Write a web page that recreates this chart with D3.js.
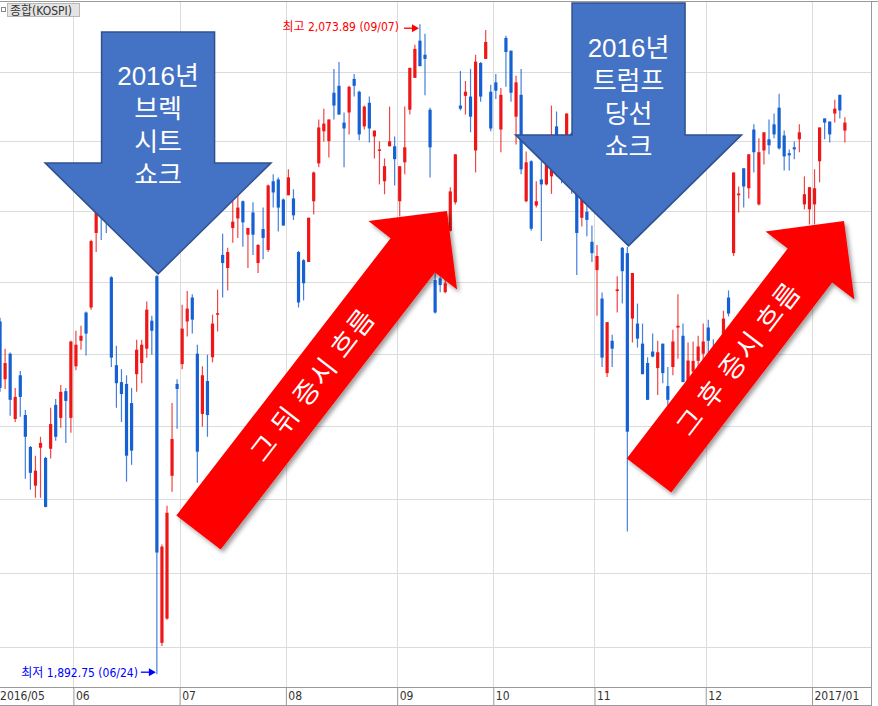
<!DOCTYPE html>
<html><head><meta charset="utf-8">
<script src="https://cdn.jsdelivr.net/npm/d3@7"></script>
<style>
body{margin:0;background:#fff;}
svg{display:block;}
.shock{width:100%;height:100%;text-align:center;color:#fff;
  font-family:'Liberation Sans','Noto Sans CJK KR',sans-serif;
  font-size:26px;line-height:33px;margin:0;padding:0;white-space:nowrap;}
</style></head>
<body><svg id="c" width="878" height="706"></svg>
<script>
// ---------------- data ----------------
const monthLabels = ["2016/05","06","07","08","09","10","11","12","2017/01"];
const monthDays   = [15,21,21,22,19,20,22,21,7];   // trading days shown per month
const yTicks = [1900,1920,1940,1960,1980,2000,2020,2040,2060];

const openP = [
 1989,1972.9,1980,1961.9,1974,1963,1954.2,1943.6,1954,1951.2,1953.7,1965.8,1962.2,1969.6,1962.2,
 1976.5,1983.6,1991.5,1992.9,2013.9,2030,2022,2001.4,1976.8,1972.1,1971.6,1966.3,1974.3,1977.4,1981.4,1989.2,2001.7,1901.1,1907.6,1946.3,1971.6,
 1977.1,1989,1995.7,1980,1963.3,1972.4,1979,1990.9,2007.7,2004,2015.3,2018,2022.9,2013.4,2019.7,2005.4,2015,2009.1,2028.6,2029.1,2023.4,
 2024.6,2023.7,2008.5,2006.2,2005.7,2022.9,2033.7,2042.9,2040.1,2054,2056,2045.4,2048.3,2058,2054.3,2044.3,2051.1,2041.4,2037.3,2028.6,2038.6,2038.6,
 2022.9,2034,2049.1,2058.3,2069.1,2065,2049.1,2000.6,2001.1,1997.2,2014.5,2022.6,2050.3,2053.1,2052.9,2037.4,2062.6,2063.8,2054.3,
 2057,2043.4,2069.9,2066.2,2047.1,2053.4,2022.9,2034.3,2021.7,2029.1,2027.7,2030,2044.3,2037,2035,2042.3,2025.4,2018.2,2019.9,2011.4,
 2003.4,1995.4,1974.6,1983.6,1997.5,2009.7,2008.2,1989.8,1988.4,1982.8,1977.4,1980.6,1976,1982.8,1971,1976.3,1987.3,1985,1972,1975,1978,1980,
 1987.3,1980,1968,1981.7,1995.7,2008.2,2024.6,2032.3,2026.6,2043.4,2022,2037.4,2040.6,2044.9,2049.7,2041.7,2036.6,2038.3,2040.6,2022,2020.6,
 2022,2034.3,2046.6,2045.7,2048,2053.4,2043.1
];
const highP = [
 1990,1981.4,1980.3,1970.5,1975.2,1964.4,1954.5,1951.8,1957,1951.5,1965,1967.4,1971.3,1970.5,1983.6,
 1986.4,1987.8,1991.8,2012,2030,2032,2025,2001.7,1982.2,1975.7,1974,1970.5,1983.9,1983.9,1994.6,1990.6,2002,1927.6,1938.1,1966.3,1972.9,
 1993.7,1997.5,1996.6,1982.5,1976.5,1979.7,1990.9,1997.9,2013.7,2009.7,2022.9,2025.1,2023.1,2015.4,2022.6,2010.8,2021.1,2027.7,2030.6,2029.7,2023.7,
 2032,2026.3,2008.8,2006.5,2018.3,2031.4,2046.3,2049.4,2046.3,2060.9,2062.9,2048.3,2056,2059.4,2054.6,2050.3,2052.9,2043.1,2040,2035.1,2050,2041.4,
 2032.9,2050,2061.2,2067.9,2073.89,2071.1,2049.7,2002.8,2004.3,2001.4,2026.9,2036.3,2060.3,2057.4,2060.9,2065,2062.9,2072.2,2056.3,
 2059.4,2055.4,2070.5,2066.2,2058.9,2060.9,2037.1,2034.6,2028.6,2034.3,2040,2050.3,2048.6,2039,2048.1,2042.6,2026,2026,2022,2016,
 2010.5,1997.1,1988.8,1985.3,2001.7,2009.9,2009.9,2002.6,1994,1988.4,1979,1985.6,1983.6,1982.8,1976.3,1986.7,1996.6,1988.4,1983.1,1983.4,1985,1988.4,
 1989.5,1984,1980,1992,1997.7,2031.1,2027.1,2032.3,2036.3,2044.9,2040.9,2042.6,2046.3,2048,2053.7,2043.1,2037.7,2040,2044.9,2030,2026.9,
 2032,2044,2046.6,2045.7,2052,2053.4,2046.9
];
const lowP = [
 1969.4,1970.2,1962.8,1961.1,1962.5,1945.5,1942.5,1940.3,1940.3,1937.7,1951,1955.9,1959.5,1955.3,1958.1,
 1975.4,1981.1,1979.5,1992.3,2008.5,2011.9,2013.9,1976.3,1965,1961.1,1944.7,1949.3,1969.4,1971.8,1978.9,1979.7,1892.75,1900.3,1907.3,1941.9,1959.2,
 1975.7,1984.8,1985.6,1944.4,1959.8,1957,1977.6,1986.2,1995.7,1997.7,2011.1,2012.5,2010,2004,2007.7,2002.6,2006.5,2008.5,2021.1,2014.3,2016,
 2024.6,2017.6,1992.9,1994.9,2005.7,2019.1,2032.6,2040,2035.4,2046.3,2047.7,2032.6,2042,2052.9,2040.3,2043.4,2039.7,2035.1,2027.7,2024.9,2038.6,2027.4,
 2018.6,2030.6,2047.7,2058.3,2061.7,2053.3,2029.7,1991.2,1997.2,1996.9,2014.3,2022,2048.9,2047.7,2042.6,2031.1,2051.4,2063.8,2042.9,
 2052.2,2036.9,2055.7,2051.4,2039.1,2030.6,2022.6,2014.5,2021.1,2011.6,2027.4,2025,2030,2028,2030,2025,2002,2015.7,2013,2005.7,
 1990.6,1976.3,1973.5,1976.3,1991.5,1994,1931.1,1983.1,1981.7,1974.3,1967.2,1979,1968.5,1971.8,1965.8,1974,1978.6,1972.1,1968,1972,1975,1977,
 1979,1968,1965,1980.8,1990.4,2007.4,2019.7,2021.1,2023.7,2031.1,2021.7,2033.4,2036.3,2040.9,2037.7,2031.7,2031.7,2034.9,2036.9,2020.6,2016.3,
 2016.3,2028.3,2040.6,2039.7,2045.4,2046.6,2039.7
];
const closeP = [
 1970.5,1977.4,1967.2,1968,1968,1957,1947.1,1947.7,1955.3,1937.8,1960.5,1957,1969.4,1966.9,1983.4,
 1982.5,1985,1985.6,2011.6,2027,2024.2,2017.6,1978.9,1971.8,1968.8,1951.8,1953.2,1981.1,1982.5,1992.3,1986.4,1925.4,1927,1936.2,1956.4,1970.2,
 1987,1992.6,1989.5,1952.9,1974,1963,1988.4,1991.3,2005.4,2008.5,2017.1,2021.1,2016.9,2015.3,2013.4,2010.5,2012.5,2027.4,2025.4,2021.1,2016,
 2029.7,2018.9,1994.3,1999.7,2018.2,2031.1,2044,2045.1,2046.3,2050.3,2047.7,2043.7,2055.7,2056,2042,2050,2043.7,2043.1,2037.7,2032.9,2040,2034.9,
 2032.9,2038.3,2061.2,2066.7,2061.7,2063.8,2038.3,1991.5,1999.2,1999.7,2025.7,2036.3,2049.4,2054.3,2047.1,2063,2052.9,2068.7,2043.7,
 2054.6,2053.4,2065.8,2054,2057,2032,2034,2015.1,2022.9,2027.7,2035,2040,2035,2033,2048,2028,2013.9,2024,2017.6,2008.2,
 2007.4,1978.9,1988.8,1981.4,1998,2003.1,1958.4,2002.6,1984.2,1974.3,1967.2,1979.2,1980.4,1974.6,1967.2,1983.4,1987.8,1972.1,1978.1,1978,1982,1983.4,
 1983.6,1972,1976,1989.8,1991.2,2031.1,2025.1,2027.1,2036.3,2036.9,2036.9,2042.6,2038.9,2042,2038,2035.7,2036,2037.7,2042.6,2024.9,2026.9,
 2026.6,2044,2045.4,2042,2049.4,2048.9,2045.4
];

const panelTitle = "종합(KOSPI)";
const highLabel  = "최고 2,073.89 (09/07)";
const lowLabel   = "최저 1,892.75 (06/24)";
const shock1Lines = ["2016년","브렉","시트","쇼크"];
const shock2Lines = ["2016년","트럼프","당선","쇼크"];
const rise1Text = "그 뒤 증시 흐름";
const rise2Text = "그 후 증시 흐름";

// ---------------- drawing ----------------
const svg = d3.select("#c");
const L = 0, R = 871, T = 2, B = 687;
const RED = "#ee1616", BLUE = "#1560d2";
const smallFont = "'DejaVu Sans Condensed','DejaVu Sans','Noto Sans CJK KR',sans-serif";
const cjk = "'Noto Sans CJK KR','Noto Sans',sans-serif";

const offset = -monthDays[0];
const x = d3.scaleLinear().domain([0, 146]).range([73.4, 812]);
const y = d3.scaleLog().domain([1900, 2060]).range([647, 72]);
const cx = k => x(k + offset + 0.5);

const starts = [];
{ let s = offset; monthDays.forEach(d => { starts.push(s); s += d; }); }

const defs = svg.append("defs");
defs.append("clipPath").attr("id","plot").append("rect")
  .attr("x",L).attr("y",T).attr("width",R-L).attr("height",B-T);
const f = defs.append("filter").attr("id","shadow")
  .attr("x","-20%").attr("y","-20%").attr("width","140%").attr("height","140%");
f.append("feDropShadow").attr("dx",2.5).attr("dy",3).attr("stdDeviation",2.2)
  .attr("flood-color","#000").attr("flood-opacity",0.38);

// gridlines
const grid = svg.append("g").attr("stroke","#dcdcdc").attr("stroke-width",1);
grid.selectAll("line.h").data(yTicks).join("line")
  .attr("x1",L).attr("x2",R)
  .attr("y1",d=>Math.round(y(d))+0.5).attr("y2",d=>Math.round(y(d))+0.5);
grid.selectAll("line.v").data(starts.slice(1)).join("line")
  .attr("y1",T).attr("y2",B)
  .attr("x1",d=>Math.round(x(d))+0.5).attr("x2",d=>Math.round(x(d))+0.5);

// candles
const idx = d3.range(closeP.length);
const cg = svg.append("g").attr("clip-path","url(#plot)");
const col = i => closeP[i] >= openP[i] ? RED : BLUE;
cg.selectAll("line.w").data(idx).join("line")
  .attr("x1",i=>cx(i)).attr("x2",i=>cx(i))
  .attr("y1",i=>y(highP[i])).attr("y2",i=>y(lowP[i]))
  .attr("stroke",col).attr("stroke-width",1.2).attr("stroke-opacity",0.8);
cg.selectAll("rect.b").data(idx).join("rect")
  .attr("x",i=>cx(i)-1.6).attr("width",3.2)
  .attr("y",i=>y(Math.max(openP[i],closeP[i])))
  .attr("height",i=>Math.max(1.5, Math.abs(y(openP[i])-y(closeP[i]))))
  .attr("fill",col);

// x axis
const axis = d3.axisBottom(x).tickValues(starts).tickSize(18)
  .tickFormat((d,i)=>monthLabels[i]);
const gAx = svg.append("g").attr("transform",`translate(0,${B})`).call(axis);
gAx.select(".domain").remove();
gAx.selectAll(".tick line").attr("stroke","#9a9a9a");
gAx.selectAll(".tick text").attr("text-anchor","start").attr("x",2).attr("y",4)
  .attr("dy","0.72em").attr("fill","#333")
  .style("font-family",smallFont).style("font-stretch","condensed").style("font-size","12px");

// frame
const fr = svg.append("g").attr("stroke","#9a9a9a").attr("stroke-width",1).attr("fill","none");
fr.append("line").attr("x1",0).attr("x2",878).attr("y1",1.5).attr("y2",1.5);
fr.append("line").attr("x1",0).attr("x2",R).attr("y1",B+0.5).attr("y2",B+0.5);
fr.append("line").attr("x1",0).attr("x2",R).attr("y1",705.5).attr("y2",705.5);
fr.append("line").attr("x1",R+0.5).attr("x2",R+0.5).attr("y1",1.5).attr("y2",706);

// high / low annotations
const kHi = d3.maxIndex(highP), kLo = d3.minIndex(lowP);
function marker(g, xEnd, yy, color){
  g.append("line").attr("x1",xEnd-15).attr("x2",xEnd-5).attr("y1",yy).attr("y2",yy)
    .attr("stroke",color).attr("stroke-width",1.3);
  g.append("path").attr("d",`M${xEnd},${yy}L${xEnd-7},${yy-4}L${xEnd-7},${yy+4}Z`).attr("fill",color);
}
const ann = svg.append("g").style("font-family",smallFont).style("font-stretch","condensed")
  .style("font-size","12px");
const hx = cx(kHi), hy = y(highP[kHi]);
ann.append("text").attr("x",hx-21).attr("y",hy+7).attr("text-anchor","end").attr("fill","#f00").text(highLabel);
marker(ann, hx-1, hy+4, "#f00");
const lx = cx(kLo), ly = y(lowP[kLo]);
ann.append("text").attr("x",lx-19).attr("y",ly+2.5).attr("text-anchor","end").attr("fill","#0000ff").text(lowLabel);
marker(ann, lx-1, ly-2, "#0000ff");

// panel title
svg.append("rect").attr("x",1.5).attr("y",7.5).attr("width",4).attr("height",4)
  .attr("fill","none").attr("stroke","#888");
svg.append("rect").attr("x",7.5).attr("y",3.5).attr("width",72).attr("height",13)
  .attr("fill","#e4e4e4").attr("stroke","#b8b8b8");
svg.append("text").attr("x",10).attr("y",14.5).attr("fill","#333")
  .style("font-family",smallFont).style("font-stretch","condensed").style("font-size","12px")
  .text(panelTitle);

// ---------------- callout arrows ----------------
function downArrow(cxA, tipY, topY, shaftHalf, headHalf, headH){
  const by = tipY - headH;
  return [[cxA-shaftHalf,topY],[cxA+shaftHalf,topY],[cxA+shaftHalf,by],[cxA+headHalf,by],
          [cxA,tipY],[cxA-headHalf,by],[cxA-shaftHalf,by]];
}
function blockArrow(tail, tip, shaftW, headW, headL){
  const dx = tip[0]-tail[0], dy = tip[1]-tail[1], len = Math.hypot(dx,dy);
  const ux = dx/len, uy = dy/len, px = -uy, py = ux;
  const b = [tip[0]-ux*headL, tip[1]-uy*headL];
  const p = (o,w)=>[o[0]+px*w, o[1]+py*w];
  return [p(tail,shaftW/2), p(b,shaftW/2), p(b,headW/2), tip, p(b,-headW/2), p(b,-shaftW/2), p(tail,-shaftW/2)];
}
const line = d3.line();

function shockArrow(k, topY, lines){
  const ax = cx(k) + 1.2, tipY = y(highP[k]) - 1.2;
  const g = svg.append("g");
  g.append("path").attr("d", line(downArrow(ax, tipY, topY, 56.5, 113, 111)) + "Z")
    .attr("fill","#4472c4").attr("stroke","#2f528f").attr("stroke-width",1.5);
  // a single wrapped text block (one line per row)
  const fo = g.append("foreignObject")
    .attr("x", ax-80).attr("y", tipY-197-17).attr("width",160).attr("height",33*lines.length+4);
  fo.append("xhtml:div").attr("class","shock").html(lines.join("<br>"));
}
shockArrow(d3.minIndex(lowP), 32, shock1Lines);   // Brexit day (06/24)
shockArrow(109 - offset, 3, shock2Lines);         // US election day (11/09)

function riseArrow(tail, tip, label){
  const g = svg.append("g");
  g.append("path").attr("d", line(blockArrow(tail, tip, 56, 112, 56)) + "Z")
    .attr("fill","#ff0000").attr("filter","url(#shadow)");
  const dx = tip[0]-tail[0], dy = tip[1]-tail[1];
  const ang = Math.atan2(dy,dx)*180/Math.PI;
  const t = 0.46, mx = tail[0]+dx*t, my = tail[1]+dy*t;
  g.append("text").attr("transform",`translate(${mx},${my}) rotate(${ang})`)
    .attr("text-anchor","middle").attr("dy","0.36em").attr("fill","#fff")
    .attr("letter-spacing","2px")
    .style("font-family",cjk).style("font-size","27px").text(label);
}
riseArrow([198.5,532.5],[447,211], rise1Text);
riseArrow([649,475.5],[844,221], rise2Text);
</script>
</body></html>
